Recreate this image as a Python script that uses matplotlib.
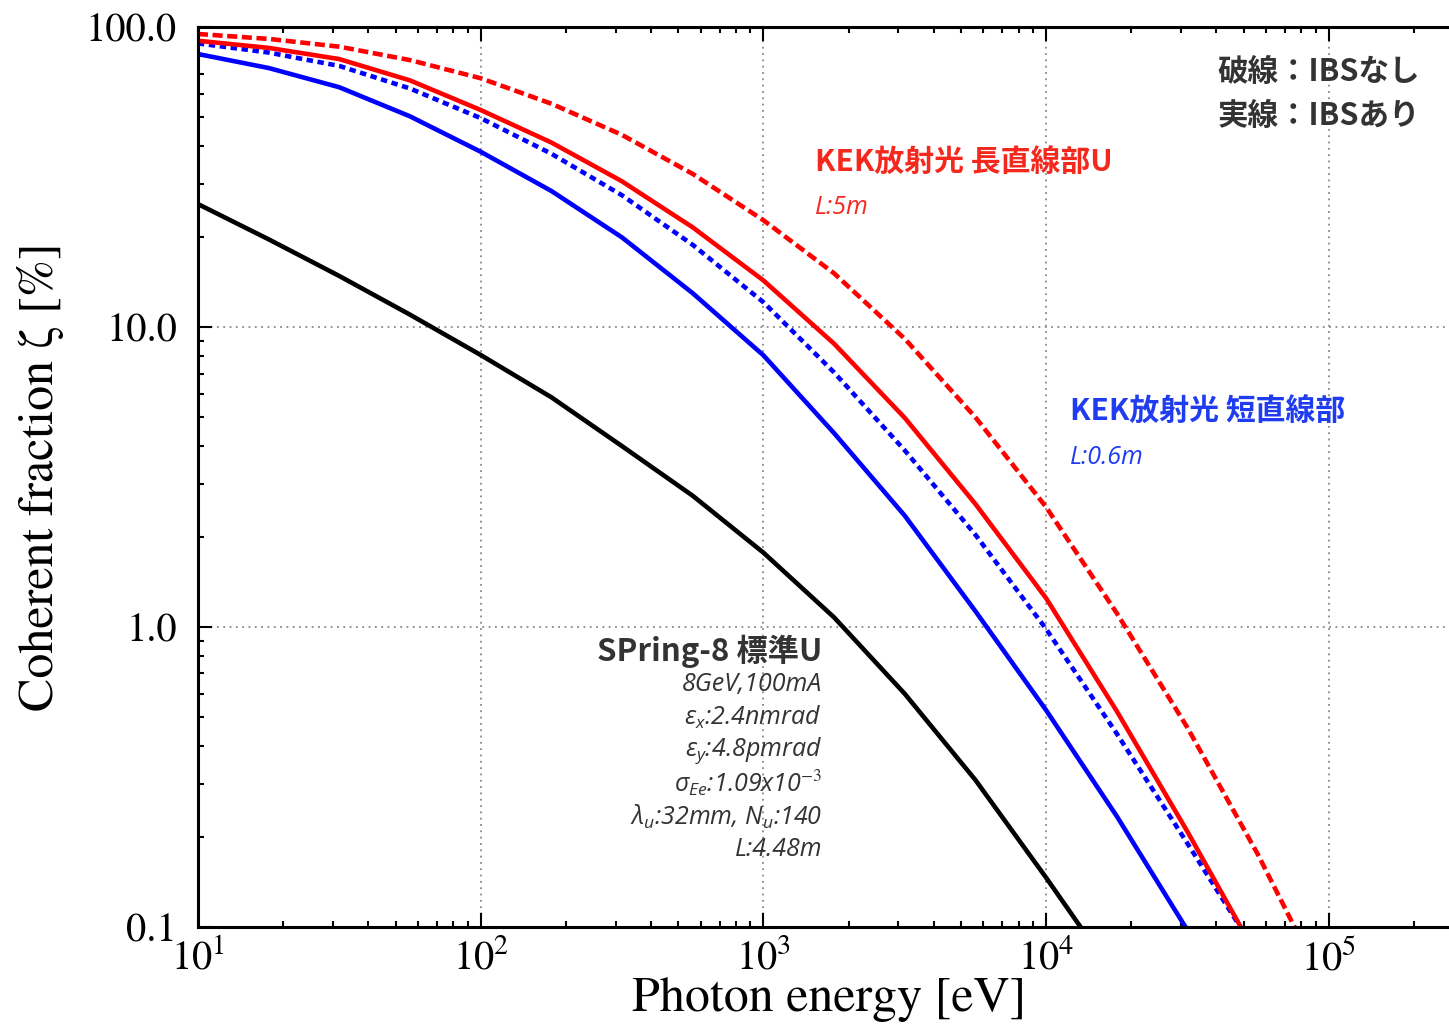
import matplotlib
matplotlib.use("Agg")
import matplotlib.pyplot as plt
from matplotlib.ticker import FixedLocator, LogLocator, NullFormatter

plt.rcParams['mathtext.fontset'] = 'custom'
plt.rcParams['mathtext.rm'] = 'STIXGeneral'
plt.rcParams['mathtext.it'] = 'Open Sans:italic'
plt.rcParams['mathtext.bf'] = 'STIXGeneral:bold'

# photon energy [eV] / coherent fraction [%]
spring8_e = [10, 17.8, 31.6, 56.2, 100, 178, 316, 562, 1000, 1778, 3162, 5623, 10000, 13240]
spring8_z = [25.7, 19.6, 14.8, 11.0, 8.07, 5.83, 4.01, 2.74, 1.77, 1.077, 0.599, 0.309, 0.146, 0.1]

short_ibs_e = [10, 17.8, 31.6, 56.2, 100, 178, 316, 562, 1000, 1778, 3162, 5623, 10000, 17783, 31100]
short_ibs_z = [81.3, 73.0, 63.0, 50.4, 38.4, 28.4, 19.9, 12.97, 8.05, 4.43, 2.35, 1.129, 0.528, 0.234, 0.1]

short_noibs_e = [10, 17.8, 31.6, 56.2, 100, 178, 316, 562, 1000, 1778, 3162, 5623, 10000, 17783, 31600, 48600]
short_noibs_z = [88.2, 82.2, 74.2, 62.4, 49.7, 37.8, 27.5, 18.8, 12.1, 7.06, 3.88, 2.03, 0.985, 0.441, 0.190, 0.1]

long_ibs_e = [10, 17.8, 31.6, 56.2, 100, 178, 316, 562, 1000, 1778, 3162, 5623, 10000, 17783, 31600, 48800]
long_ibs_z = [90.0, 85.2, 78.2, 66.4, 52.9, 41.2, 30.6, 21.5, 14.3, 8.80, 4.98, 2.57, 1.247, 0.524, 0.208, 0.1]

long_noibs_e = [10, 17.8, 31.6, 56.2, 100, 178, 316, 562, 1000, 1778, 3162, 5623, 10000, 17783, 31600, 56200, 75600]
long_noibs_z = [94.8, 91.3, 86.0, 77.6, 67.5, 55.5, 43.7, 32.4, 22.7, 15.1, 9.14, 5.00, 2.51, 1.112, 0.462, 0.174, 0.1]

y_ticks = [0.1, 1, 10, 100]
y_labels = ["0.1", "1.0", "10.0", "100.0"]
x_ticks = [1e1, 1e2, 1e3, 1e4, 1e5]
x_labels = [r"$\mathrm{10^{%d}}$" % i for i in range(1, 6)]

spring8_lines = ["8GeV,100mA",
                 r"$ε_{x}$:2.4nmrad",
                 r"$ε_{y}$:4.8pmrad",
                 r"$σ_{Ee}$:1.09x10$^{-3}$",
                 r"$λ_{u}$:32mm, N$_{u}$:140",
                 "L:4.48m"]

fig = plt.figure(figsize=(14.49, 10.24), dpi=100)
ax = fig.add_axes([0.1366, 0.0947, 0.8634, 0.8789])

lw = 3.3
ax.plot(long_noibs_e, long_noibs_z, color="#ff0000", lw=lw, dashes=(2.2, 1.0))
ax.plot(short_noibs_e, short_noibs_z, color="#0000ff", lw=lw, dashes=(1.4, 1.0))
ax.plot(long_ibs_e, long_ibs_z, color="#ff0000", lw=lw)
ax.plot(short_ibs_e, short_ibs_z, color="#0000ff", lw=lw)
ax.plot(spring8_e, spring8_z, color="black", lw=lw)

ax.set_xscale("log")
ax.set_yscale("log")
ax.set_xlim(10, 2.66e5)
ax.set_ylim(0.1, 100)

ax.xaxis.set_major_locator(FixedLocator(x_ticks))
ax.set_xticklabels(x_labels)
ax.xaxis.set_minor_locator(LogLocator(base=10, subs=range(2, 10), numticks=20))
ax.xaxis.set_minor_formatter(NullFormatter())
ax.yaxis.set_major_locator(FixedLocator(y_ticks))
ax.set_yticklabels(y_labels)
ax.yaxis.set_minor_locator(LogLocator(base=10, subs=range(2, 10), numticks=20))
ax.yaxis.set_minor_formatter(NullFormatter())

ax.tick_params(which="both", direction="in", top=True, right=False, width=1.5)
ax.tick_params(which="major", length=10)
ax.tick_params(which="minor", length=4.5)
ax.tick_params(axis="y", pad=15, labelsize=29)
ax.tick_params(axis="x", pad=9, labelsize=29)
for lab in ax.get_yticklabels():
    lab.set_family("STIXGeneral")
for lab in ax.get_xticklabels():
    lab.set_family("STIXGeneral")

for side in ["left", "bottom", "top"]:
    ax.spines[side].set_linewidth(2.2)
ax.spines["right"].set_visible(False)

ax.grid(which="major", color="#888888", linestyle=(0, (1, 2.5)), lw=1.3)

ax.set_xlabel("Photon energy [eV]", family="STIXGeneral", fontsize=36)
ax.xaxis.set_label_coords(0.5045, -0.0556, transform=ax.transAxes)
ax.xaxis.label.set_va("top")
ax.set_ylabel("Coherent fraction ζ [%]", family="STIXGeneral", fontsize=36, labelpad=16)

jp = ["Noto Sans CJK JP", "DejaVu Sans"]
it = ["Open Sans", "DejaVu Sans"]
tr = ax.transAxes

ax.text(0.815, 0.95, "破線：IBSなし", transform=tr, family=jp, fontsize=22,
        weight="bold", color="#333333", va="center", ha="left")
ax.text(0.815, 0.901, "実線：IBSあり", transform=tr, family=jp, fontsize=22,
        weight="bold", color="#333333", va="center", ha="left")

ax.text(0.493, 0.849, "KEK放射光 長直線部U", transform=tr, family=jp, fontsize=21.5,
        weight="bold", color="#f5281e", va="center", ha="left")
ax.text(0.493, 0.80, "L:5m", transform=tr, family=it, style="italic", fontsize=18,
        color="#f5281e", va="center", ha="left")

ax.text(0.697, 0.572, "KEK放射光 短直線部", transform=tr, family=jp, fontsize=21.5,
        weight="bold", color="#1f3cf0", va="center", ha="left")
ax.text(0.697, 0.522, "L:0.6m", transform=tr, family=it, style="italic", fontsize=18,
        color="#1f3cf0", va="center", ha="left")

ax.text(0.4988, 0.3067, "SPring-8 標準U", transform=tr, family=jp, fontsize=22.5,
        weight="bold", color="#333333", va="center", ha="right")
y0 = 0.269
for i, s in enumerate(spring8_lines):
    ax.text(0.4988, y0 - i * 0.0366, s, transform=tr, family=it, style="italic",
            fontsize=18, color="#333333", va="center", ha="right")

fig.savefig("out.png", dpi=100)
